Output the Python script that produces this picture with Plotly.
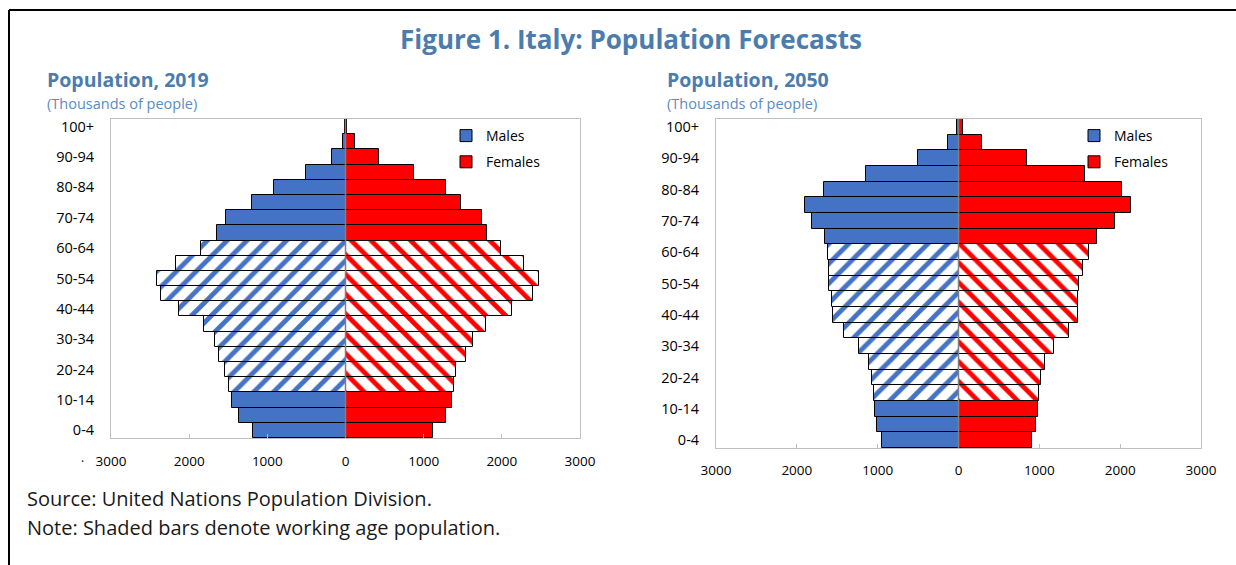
import plotly.graph_objects as go

# ---------------- data ----------------
age_groups = ["0-4", "5-9", "10-14", "15-19", "20-24", "25-29", "30-34", "35-39",
              "40-44", "45-49", "50-54", "55-59", "60-64", "65-69", "70-74",
              "75-79", "80-84", "85-89", "90-94", "95-99", "100+"]
age_tick_labels = ["0-4", "10-14", "20-24", "30-34", "40-44", "50-54",
                   "60-64", "70-74", "80-84", "90-94", "100+"]
working_age = ["15-19", "20-24", "25-29", "30-34", "35-39", "40-44",
               "45-49", "50-54", "55-59", "60-64"]

males_2019 = [1182, 1368, 1455, 1486, 1545, 1614, 1664, 1814, 2132, 2359, 2409,
              2168, 1850, 1645, 1523, 1191, 914, 500, 173, 36, 4]
females_2019 = [1114, 1291, 1368, 1382, 1409, 1536, 1627, 1795, 2136, 2400, 2473,
                2282, 1995, 1814, 1745, 1482, 1286, 877, 427, 123, 14]
males_2050 = [945, 1005, 1032, 1046, 1073, 1110, 1225, 1422, 1550, 1560, 1601,
              1606, 1615, 1656, 1807, 1899, 1665, 1147, 505, 128, 18]
females_2050 = [904, 954, 982, 995, 1018, 1064, 1179, 1367, 1482, 1482, 1486,
                1546, 1615, 1711, 1931, 2138, 2018, 1569, 849, 289, 60]

x_tick_vals = [-3000, -2000, -1000, 0, 1000, 2000, 3000]
x_tick_text = ["3000", "2000", "1000", "0", "1000", "2000", "3000"]

# ---------------- styling ----------------
W, H = 1236, 565
BLUE = "#4472C4"
RED = "#FF0000"
TITLE_BLUE = "#4A7DAE"
SUB_BLUE = "#5A8CC2"
GRID = "#BFBFBF"
FONT = "Open Sans"


def px(x):
    return x / W


def py(y):
    return 1 - y / H


fig = go.Figure()


def add_pyramid(males, females, xa, ya, legend):
    for name, vals, sign, color, shape in [("Males", males, -1, BLUE, "/"),
                                           ("Females", females, 1, RED, "\\")]:
        solid = [(a, v) for a, v in zip(age_groups, vals) if a not in working_age]
        work = [(a, v) for a, v in zip(age_groups, vals) if a in working_age]
        # solid bars (young and old)
        fig.add_trace(go.Bar(
            y=[a for a, _ in solid], x=[sign * v for _, v in solid],
            orientation="h", name=name, xaxis=xa, yaxis=ya, legend=legend,
            legendgroup=name + legend,
            marker=dict(color=color, line=dict(color="black", width=1)),
            customdata=[v for _, v in solid],
            hovertemplate="%{y}: %{customdata}<extra>" + name + "</extra>",
        ))
        # shaded bars (working age)
        fig.add_trace(go.Bar(
            y=[a for a, _ in work], x=[sign * v for _, v in work],
            orientation="h", name=name, xaxis=xa, yaxis=ya, legend=legend,
            legendgroup=name + legend, showlegend=False,
            marker=dict(color=color, line=dict(color="black", width=1),
                        pattern=dict(shape=shape, fillmode="replace",
                                     fgcolor=color, bgcolor="white",
                                     fgopacity=1, size=14, solidity=0.34)),
            customdata=[v for _, v in work],
            hovertemplate="%{y}: %{customdata}<extra>" + name + "</extra>",
        ))


add_pyramid(males_2019, females_2019, "x", "y", "legend")
add_pyramid(males_2050, females_2050, "x2", "y2", "legend2")

common_x = dict(range=[-3000, 3000], tickvals=x_tick_vals, ticktext=x_tick_text,
                ticks="inside", ticklen=4, tickcolor=GRID, showline=True,
                mirror=True, linecolor=GRID, linewidth=1, showgrid=False,
                zeroline=False, fixedrange=True, automargin=False,
                tickfont=dict(family=FONT, size=13.5, color="black"))
common_y = dict(type="category", categoryorder="array", categoryarray=age_groups,
                range=[-0.5, 20.5], tickvals=age_tick_labels, ticks="",
                showline=True, mirror=True, linecolor=GRID, linewidth=1,
                showgrid=False, zeroline=False, fixedrange=True, automargin=False,
                ticklabelstandoff=13,
                tickfont=dict(family=FONT, size=14.5, color="black"))

fig.update_layout(
    width=W, height=H, autosize=False,
    margin=dict(l=0, r=0, t=0, b=0, pad=0, autoexpand=False),
    paper_bgcolor="white", plot_bgcolor="white",
    barmode="overlay", bargap=0,
    font=dict(family=FONT, color="black"),
    xaxis=dict(domain=[px(111), px(580)], anchor="y", ticklabelstandoff=11, **common_x),
    yaxis=dict(domain=[py(438), py(119)], anchor="x", **common_y),
    xaxis2=dict(domain=[px(716), px(1201)], anchor="y2", ticklabelstandoff=10, **common_x),
    yaxis2=dict(domain=[py(448), py(119)], anchor="x2", **common_y),
    legend=dict(x=px(446), y=py(120), xanchor="left", yanchor="top",
                bgcolor="rgba(0,0,0,0)", font=dict(family=FONT, size=14),
                tracegroupgap=5, itemwidth=30),
    legend2=dict(x=px(1074), y=py(120), xanchor="left", yanchor="top",
                 bgcolor="rgba(0,0,0,0)", font=dict(family=FONT, size=14),
                 tracegroupgap=5, itemwidth=30),
    showlegend=True,
)

# zero lines
for xr, yr in [("x", "y domain"), ("x2", "y2 domain")]:
    fig.add_shape(type="line", xref=xr, yref=yr, x0=0, x1=0, y0=0, y1=1,
                  line=dict(color="#7F7F7F", width=1.5), layer="above")

# frame (top and left border)
fig.add_shape(type="line", xref="paper", yref="paper", x0=px(9), x1=1,
              y0=py(10), y1=py(10), line=dict(color="black", width=2))
fig.add_shape(type="line", xref="paper", yref="paper", x0=px(9), x1=px(9),
              y0=py(10), y1=0, line=dict(color="black", width=2))

annotations = [
    dict(text="<b>Figure 1. Italy: Population Forecasts</b>", x=px(631), y=py(39),
         xanchor="center", font=dict(size=26, color=TITLE_BLUE)),
    dict(text="<b>Population, 2019</b>", x=px(45), y=py(79), xanchor="left",
         font=dict(size=19.5, color=TITLE_BLUE)),
    dict(text="(Thousands of people)", x=px(45), y=py(103), xanchor="left",
         font=dict(size=14.5, color=SUB_BLUE)),
    dict(text="<b>Population, 2050</b>", x=px(665), y=py(79), xanchor="left",
         font=dict(size=19.5, color=TITLE_BLUE)),
    dict(text="(Thousands of people)", x=px(665), y=py(103), xanchor="left",
         font=dict(size=14.5, color=SUB_BLUE)),
    dict(text="Source: United Nations Population Division.", x=px(25), y=py(498),
         xanchor="left", font=dict(size=20, color="#1a1a1a")),
    dict(text="Note: Shaded bars denote working age population.", x=px(25), y=py(527),
         xanchor="left", font=dict(size=20, color="#1a1a1a")),
    dict(text="·", x=px(82), y=py(461), xanchor="center",
         font=dict(size=12, color="black")),
]
for a in annotations:
    a.setdefault("xref", "paper")
    a.setdefault("yref", "paper")
    a.setdefault("yanchor", "middle")
    a.setdefault("showarrow", False)
    a["font"]["family"] = FONT
    fig.add_annotation(**a)

fig.write_html("out.html", post_script="document.body.style.margin='0';",
               config={"displayModeBar": False})
